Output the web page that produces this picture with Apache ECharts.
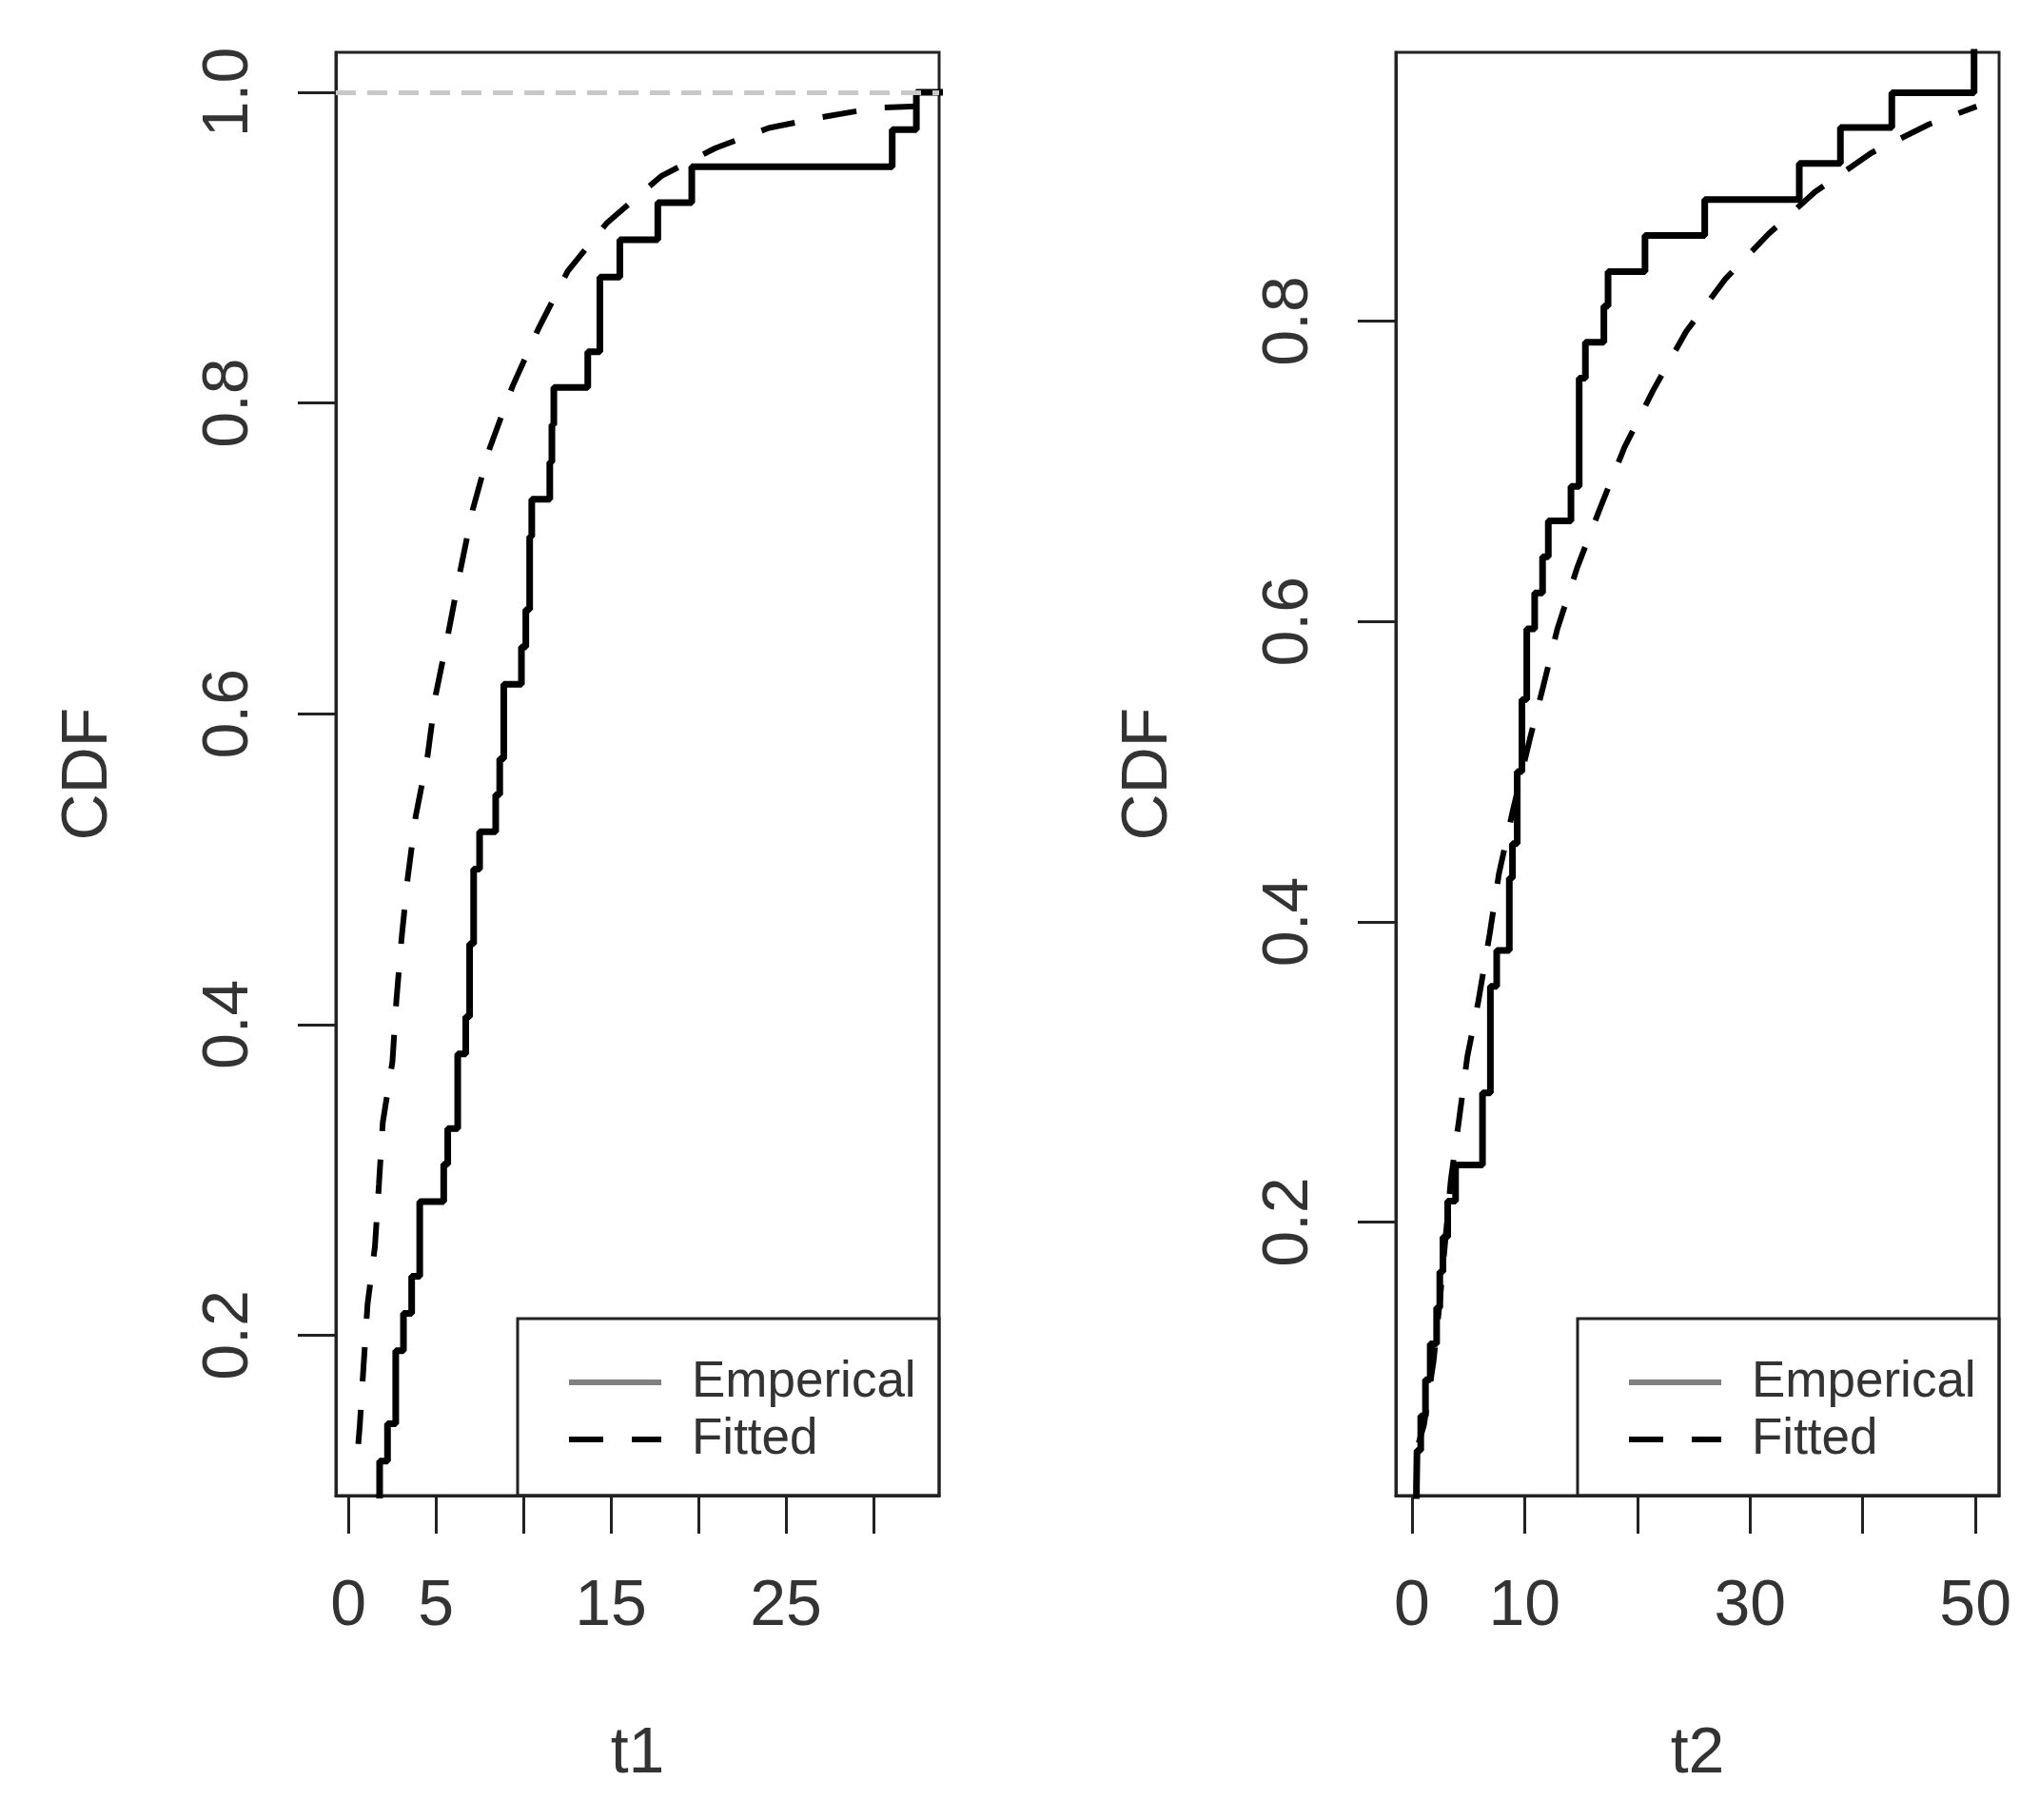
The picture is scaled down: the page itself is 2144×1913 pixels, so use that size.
<!DOCTYPE html>
<html>
<head>
<meta charset="utf-8">
<script src="https://cdn.jsdelivr.net/npm/echarts@6/dist/echarts.min.js"></script>
<style>html,body{margin:0;padding:0;background:#fff}#c{width:2144px;height:1913px}</style>
</head>
<body>
<div id="c"></div>
<script>
// ---------- data ----------
// Panel 1 (t1): empirical CDF jump points and the level after each jump
const t1EmpX = [1.79, 1.79, 2.24, 2.71, 3.15, 3.62, 4.08, 5.45, 5.68, 6.25, 6.71, 6.93, 7.16, 7.50, 8.42, 8.65, 8.88, 9.89, 10.14, 10.36, 10.48, 11.51, 11.63, 11.74, 13.68, 14.37, 15.51, 17.68, 19.62, 31.07, 32.45];
const t1EmpY = [0.095, 0.119, 0.143, 0.190, 0.214, 0.238, 0.286, 0.310, 0.333, 0.381, 0.405, 0.452, 0.500, 0.524, 0.548, 0.571, 0.619, 0.643, 0.667, 0.714, 0.738, 0.762, 0.786, 0.810, 0.833, 0.881, 0.905, 0.929, 0.952, 0.976, 1.000];
// Panel 1 fitted CDF
const t1FitX = [0.57, 0.65, 0.87, 1.10, 1.52, 1.75, 1.97, 2.52, 2.75, 3.04, 3.39, 3.85, 4.53, 4.99, 5.68, 6.36, 7.10, 8.08, 9.39, 10.87, 12.54, 14.78, 17.87, 20.96, 24.02, 27.07, 30.15, 32.45];
const t1FitY = [0.130, 0.141, 0.180, 0.220, 0.257, 0.297, 0.337, 0.376, 0.416, 0.455, 0.494, 0.534, 0.573, 0.612, 0.650, 0.690, 0.731, 0.771, 0.811, 0.848, 0.885, 0.916, 0.946, 0.964, 0.977, 0.984, 0.990, 0.991];

// Panel 2 (t2)
const t2EmpX = [0.40, 0.40, 0.45, 0.78, 1.20, 1.62, 2.19, 2.47, 2.75, 3.17, 3.87, 6.26, 6.96, 7.52, 8.64, 8.92, 9.34, 9.76, 10.19, 10.89, 11.59, 12.10, 14.11, 14.84, 15.39, 17.03, 17.40, 20.68, 25.98, 34.37, 38.02, 42.58, 49.88];
const t2EmpY = [0.000, 0.024, 0.048, 0.071, 0.095, 0.119, 0.143, 0.167, 0.190, 0.214, 0.238, 0.286, 0.357, 0.381, 0.429, 0.452, 0.500, 0.548, 0.595, 0.619, 0.643, 0.667, 0.690, 0.762, 0.786, 0.810, 0.833, 0.857, 0.881, 0.905, 0.929, 0.952, 1.000];
const t2FitX = [0.60, 1.07, 1.91, 2.47, 2.95, 3.45, 4.21, 4.91, 5.89, 6.90, 7.72, 8.92, 10.47, 11.59, 12.90, 14.67, 16.67, 18.86, 21.41, 24.33, 27.80, 31.63, 35.76, 40.76, 45.87, 50.10];
const t2FitY = [0.053, 0.065, 0.107, 0.147, 0.187, 0.228, 0.270, 0.310, 0.347, 0.392, 0.432, 0.473, 0.522, 0.555, 0.595, 0.636, 0.675, 0.716, 0.754, 0.793, 0.828, 0.858, 0.886, 0.912, 0.931, 0.943];

// axes
const t1XRange = [-0.71, 33.75];
const t1YRange = [0.0968, 1.0257];
const t2XRange = [-1.43, 52.1];
const t2YRange = [0.0179, 0.979];
const t1XTicks = [0, 5, 10, 15, 20, 25, 30];
const t1XLabels = [0, 5, 15, 25];
const t2XTicks = [0, 10, 20, 30, 40, 50];
const t2XLabels = [0, 10, 30, 50];
const t1YTicks = [0.2, 0.4, 0.6, 0.8, 1.0];
const t2YTicks = [0.2, 0.4, 0.6, 0.8];
const seriesNames = ['Emperical', 'Fitted'];
const axisTitles = ['t1', 't2', 'CDF'];

// ---------- chart ----------
const FONT = '"Liberation Sans", Arial, sans-serif';
const TXT = '#333';
const AX = '#222';
const zip = (xs, ys) => xs.map((x, i) => [x, ys[i]]);

function emp(xs, ys, xmax) {
  const d = zip(xs, ys);
  d.push([xmax + 10, ys[ys.length - 1]]);
  return d;
}

function xAxis(gi, range, ticks, labels, name) {
  return {
    type: 'value', gridIndex: gi, min: range[0], max: range[1], name: name,
    nameLocation: 'middle', nameGap: 238,
    nameTextStyle: { fontFamily: FONT, fontSize: 68, color: TXT },
    splitLine: { show: false },
    axisLine: { show: true, onZero: false, lineStyle: { color: AX, width: 3 } },
    axisTick: { show: true, inside: false, length: 40, customValues: ticks, lineStyle: { color: AX, width: 3 } },
    axisLabel: { customValues: labels, margin: 83, fontFamily: FONT, fontSize: 68, color: TXT }
  };
}
function yAxis(gi, range, ticks, name) {
  return {
    type: 'value', gridIndex: gi, min: range[0], max: range[1], name: name,
    nameLocation: 'middle', nameGap: 226, nameRotate: 90,
    nameTextStyle: { fontFamily: FONT, fontSize: 68, color: TXT },
    splitLine: { show: false },
    axisLine: { show: true, onZero: false, lineStyle: { color: AX, width: 3 } },
    axisTick: { show: true, inside: false, length: 40, customValues: ticks, lineStyle: { color: AX, width: 3 } },
    axisLabel: { customValues: ticks, rotate: 90, margin: 78, fontFamily: FONT, fontSize: 68, color: TXT,
      formatter: v => v.toFixed(1) }
  };
}

const empStyle = { color: '#000', width: 7 };
const fitStyle = { color: '#000', width: 6, type: [36, 30] };
const hiddenSym = { color: 'rgba(0,0,0,0)', borderWidth: 0, opacity: 0 };

function legend(left) {
  return {
    orient: 'vertical', left: left, top: 1418, itemWidth: 97, itemHeight: 20, itemGap: 0,
    textStyle: { fontFamily: FONT, fontSize: 53, color: TXT, lineHeight: 60, padding: [0, 0, 0, 27] },
    data: [
      { name: seriesNames[0], lineStyle: { color: '#808080', width: 6, type: 'solid' }, itemStyle: hiddenSym },
      { name: seriesNames[1], lineStyle: { color: '#000', width: 6, type: [36, 30] }, itemStyle: hiddenSym }
    ]
  };
}

const option = {
  backgroundColor: '#fff',
  animation: false,
  grid: [
    { left: 353, top: 55, width: 634, height: 1517, show: true, borderColor: AX, borderWidth: 3 },
    { left: 1467, top: 55, width: 634, height: 1517, show: true, borderColor: AX, borderWidth: 3 }
  ],
  xAxis: [xAxis(0, t1XRange, t1XTicks, t1XLabels, axisTitles[0]), xAxis(1, t2XRange, t2XTicks, t2XLabels, axisTitles[1])],
  yAxis: [yAxis(0, t1YRange, t1YTicks, axisTitles[2]), yAxis(1, t2YRange, t2YTicks, axisTitles[2])],
  legend: [legend(590), legend(1704)],
  graphic: [
    { type: 'rect', shape: { x: 544, y: 1386, width: 443, height: 186 }, style: { fill: 'none', stroke: AX, lineWidth: 3 }, z: 10 },
    { type: 'rect', shape: { x: 1658, y: 1386, width: 443, height: 186 }, style: { fill: 'none', stroke: AX, lineWidth: 3 }, z: 10 }
  ],
  series: [
    { type: 'line', xAxisIndex: 0, yAxisIndex: 0, data: [], z: 1, silent: true,
      markLine: { silent: true, symbol: 'none', label: { show: false },
        lineStyle: { color: '#c8c8c8', width: 5, type: [21, 12] }, data: [{ yAxis: 1 }] } },
    { name: seriesNames[0], type: 'line', xAxisIndex: 0, yAxisIndex: 0, step: 'end', symbol: 'none',
      data: emp(t1EmpX, t1EmpY, t1XRange[1]), lineStyle: empStyle, z: 3, clip: true },
    { name: seriesNames[1], type: 'line', xAxisIndex: 0, yAxisIndex: 0, symbol: 'none',
      data: zip(t1FitX, t1FitY), lineStyle: fitStyle, z: 3, clip: true },
    { name: seriesNames[0], type: 'line', xAxisIndex: 1, yAxisIndex: 1, step: 'end', symbol: 'none',
      data: emp(t2EmpX, t2EmpY, t2XRange[1]), lineStyle: empStyle, z: 3, clip: true },
    { name: seriesNames[1], type: 'line', xAxisIndex: 1, yAxisIndex: 1, symbol: 'none',
      data: zip(t2FitX, t2FitY), lineStyle: fitStyle, z: 3, clip: true }
  ]
};
const chart = echarts.init(document.getElementById('c'));
chart.setOption(option);
</script>
</body>
</html>
